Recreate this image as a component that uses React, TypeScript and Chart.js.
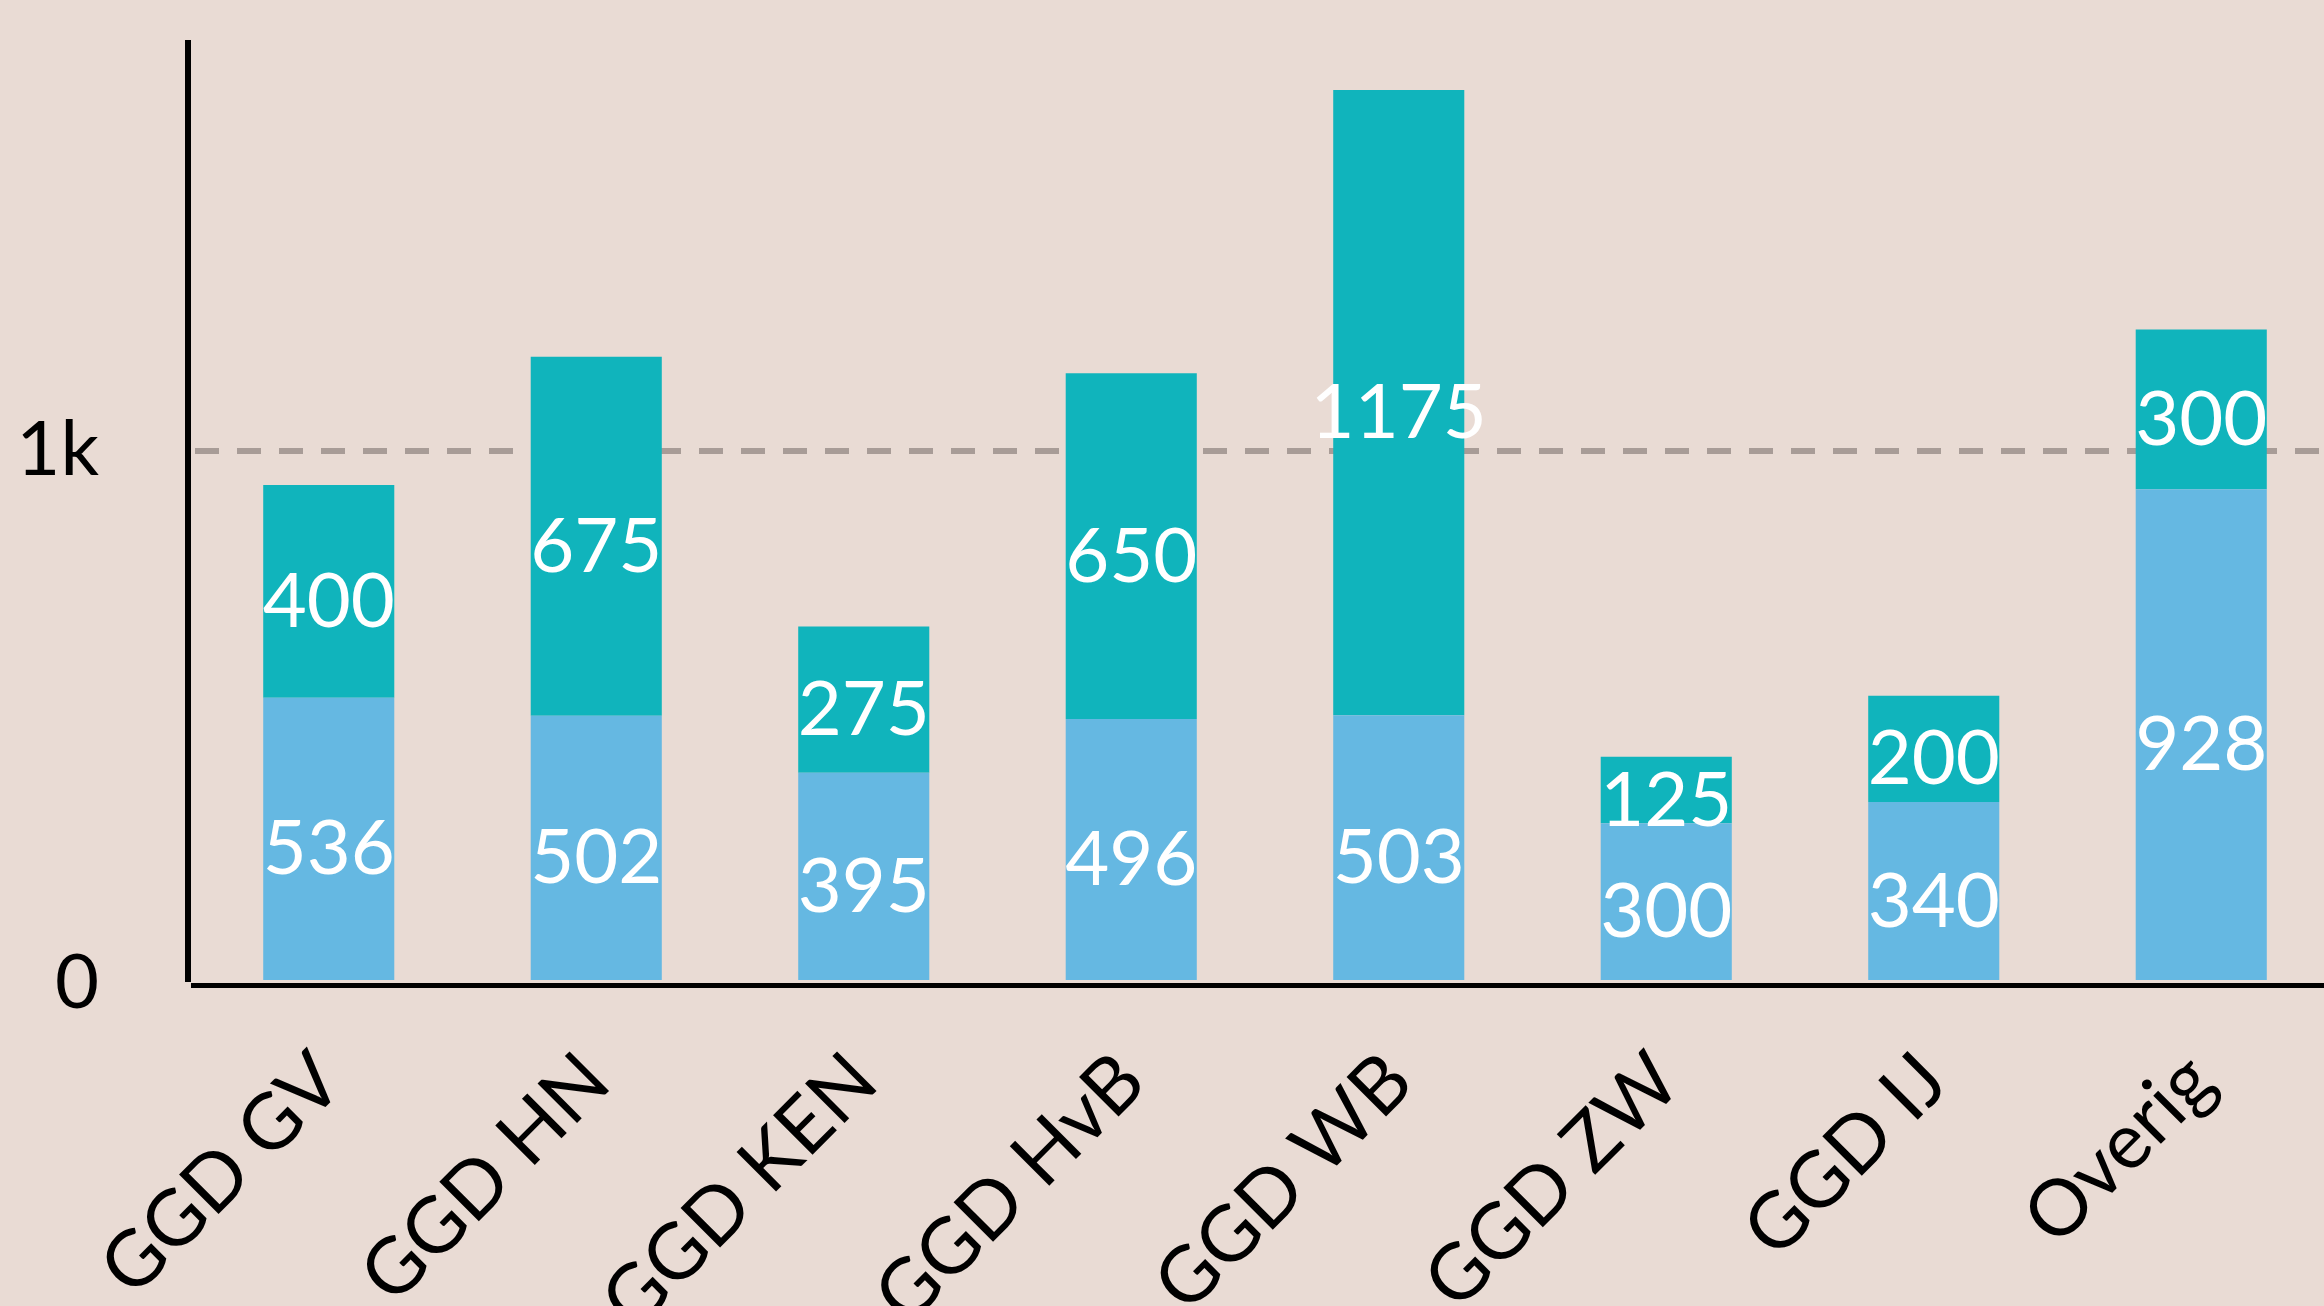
import React, { useEffect, useRef } from "react";
import { Chart, registerables } from "chart.js";
Chart.register(...registerables);

const categories = ["GGD GV", "GGD HN", "GGD KEN", "GGD HvB", "GGD WB", "GGD ZW", "GGD IJ", "Overig"];
const baseValues = [536, 502, 395, 496, 503, 300, 340, 928];
const topValues = [400, 675, 275, 650, 1175, 125, 200, 300];
const yTickValues = [0, 1000];
const yTickLabels = ["0", "1k"];

const BG = "#e9dbd4";
const BLUE = "#65b8e2";
const TEAL = "#10b4bc";
const GRID = "#a89c97";
const FONT = "Lato";
const W = 2335;
const H = 1306;

export default function App() {
  const ref = useRef<HTMLCanvasElement>(null);
  useEffect(() => {
    if (!ref.current) return;
    const bgPlugin = {
      id: "bg",
      beforeDraw(c: any) {
        const ctx = c.ctx;
        ctx.save();
        ctx.fillStyle = BG;
        ctx.fillRect(0, 0, c.width, c.height);
        ctx.restore();
      },
    };
    const axesPlugin = {
      id: "axesLines",
      afterDatasetsDraw(c: any) {
        const { ctx, chartArea: a } = c;
        ctx.save();
        ctx.fillStyle = "#000";
        ctx.fillRect(a.left - 10, a.top, 6, a.bottom - a.top - 1);
        ctx.fillRect(a.left - 4, a.bottom, c.width, 5);
        ctx.restore();
      },
    };
    const labelPlugin = {
      id: "segLabels",
      afterDatasetsDraw(c: any) {
        const ctx = c.ctx;
        ctx.save();
        ctx.fillStyle = "#ffffff";
        ctx.font = `76px ${FONT}`;
        ctx.textAlign = "center";
        ctx.textBaseline = "middle";
        c.data.datasets.forEach((ds: any, di: number) => {
          const meta = c.getDatasetMeta(di);
          meta.data.forEach((el: any, i: number) => {
            const p = el.getProps(["x", "y", "base"], true);
            const cy = (p.y + p.base) / 2 + 11;
            ctx.fillText(String(ds.data[i]), p.x, cy);
          });
        });
        ctx.restore();
      },
    };
    const chart = new Chart(ref.current, {
      type: "bar",
      data: {
        labels: categories,
        datasets: [
          { label: "a", data: baseValues, backgroundColor: BLUE, borderWidth: 0 },
          { label: "b", data: topValues, backgroundColor: TEAL, borderWidth: 0 },
        ],
      },
      options: {
        responsive: false,
        animation: false,
        layout: { padding: { top: 40, left: 0, right: 0, bottom: 0 } },
        datasets: { bar: { barPercentage: 0.49, categoryPercentage: 1 } },
        plugins: { legend: { display: false }, tooltip: { enabled: false } },
        scales: {
          x: {
            stacked: true,
            grid: { display: false, drawTicks: false },
            border: { display: false },
            ticks: {
              autoSkip: false,
              maxRotation: 45,
              minRotation: 45,
              padding: 52,
              color: "#000",
              font: { family: FONT, size: 78 },
            },
            afterFit(scale: any) {
              scale.height = 323;
              scale.paddingLeft = 0;
              scale.paddingRight = 0;
              scale.paddingTop = 0;
              scale.paddingBottom = 0;
            },
          },
          y: {
            stacked: true,
            min: 0,
            max: 1772,
            afterBuildTicks(scale: any) {
              scale.ticks = yTickValues.map((v) => ({ value: v }));
            },
            afterFit(scale: any) {
              scale.width = 195;
              scale.paddingTop = 0;
              scale.paddingBottom = 0;
              scale.paddingLeft = 0;
              scale.paddingRight = 0;
            },
            grid: {
              drawTicks: false,
              lineWidth: 6,
              color: (ctx: any) => (ctx.tick && ctx.tick.value === 1000 ? GRID : "rgba(0,0,0,0)"),
            },
            border: { display: false, dash: [24, 18] },
            ticks: {
              padding: 96,
              color: "#000",
              font: { family: FONT, size: 76 },
              callback: (v: any) => {
                const i = yTickValues.indexOf(Number(v));
                return i >= 0 ? yTickLabels[i] : "";
              },
            },
          },
        },
      },
      plugins: [bgPlugin, axesPlugin, labelPlugin],
    });
    return () => chart.destroy();
  }, []);
  return (
    <div
      style={{
        position: "fixed",
        left: 0,
        top: 0,
        width: 2324,
        height: 1306,
        overflow: "hidden",
        background: BG,
      }}
    >
      <canvas ref={ref} width={W} height={H} style={{ display: "block", width: W, height: H }} />
    </div>
  );
}
